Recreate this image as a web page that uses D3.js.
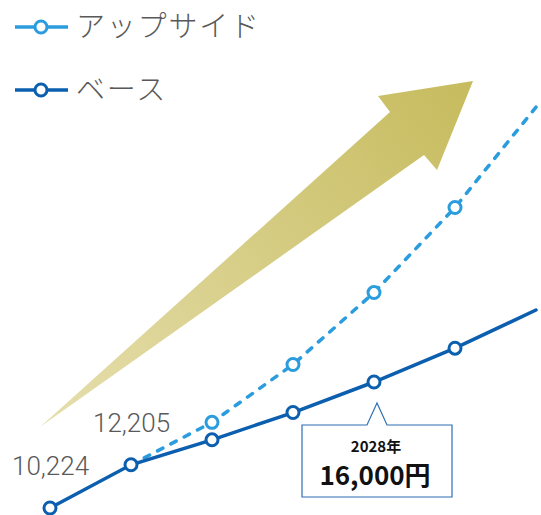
<!DOCTYPE html>
<html>
<head>
<meta charset="utf-8">
<script src="https://cdn.jsdelivr.net/npm/d3@7"></script>
<style>
  html, body { margin: 0; padding: 0; background: #fff; }
  svg { display: block; }
</style>
</head>
<body>
<div id="chart"></div>
<script>
// Forecast series (values per year)
const years = ["2024", "2025", "2026", "2027", "2028", "2029", "2030"];
const baseValues = [10224, 12205, 13350, 14600, 16000, 17550, 19300];
const upsideValues = [null, 12205, 14150, 16800, 20100, 24000, 28600];
const seriesNames = ["アップサイド", "ベース"];
const valueLabels = [
  { index: 0, value: 10224, text: "10,224" },
  { index: 1, value: 12205, text: "12,205" }
];
const callout = { index: 4, value: 16000, year: "2028年", text: "16,000円" };

const W = 541, H = 515;
const baseColor = "#0b5fae";
const upColor = "#2b9cdd";
const textGray = "#595959";

const svg = d3.select("#chart").append("svg")
  .attr("width", W).attr("height", H);

const x = d3.scalePoint().domain(years).range([50, 536]);
const y = d3.scaleLinear().domain([10224, 16000]).range([508, 382]);

// Decorative growth arrow behind the lines
const defs = svg.append("defs");
const grad = defs.append("linearGradient")
  .attr("id", "arrowGrad")
  .attr("gradientUnits", "userSpaceOnUse")
  .attr("x1", 40).attr("y1", 427).attr("x2", 473).attr("y2", 81);
grad.append("stop").attr("offset", "0%").attr("stop-color", "#e6dfae");
grad.append("stop").attr("offset", "100%").attr("stop-color", "#c6bb5d");

const arrowShape = [[40, 427], [390, 112], [378, 96], [473, 81], [437, 170], [424, 155]];
svg.append("path")
  .attr("d", d3.line()(arrowShape) + "Z")
  .attr("fill", "url(#arrowGrad)");

const line = d3.line()
  .defined(d => d.v != null)
  .x(d => x(d.year))
  .y(d => y(d.v));

const upData = years.map((yr, i) => ({ year: yr, v: upsideValues[i], i }));
const baseData = years.map((yr, i) => ({ year: yr, v: baseValues[i], i }));

// Upside (dashed)
svg.append("path")
  .attr("d", line(upData))
  .attr("fill", "none")
  .attr("stroke", upColor)
  .attr("stroke-width", 3.5)
  .attr("stroke-dasharray", "6,9")
  .attr("stroke-linecap", "round");

// Base (solid)
svg.append("path")
  .attr("d", line(baseData))
  .attr("fill", "none")
  .attr("stroke", baseColor)
  .attr("stroke-width", 3.5)
  .attr("stroke-linecap", "round");

// Markers: skip the final year and the shared start of the upside series
svg.selectAll("circle.up")
  .data(upData.filter(d => d.v != null && d.i > 1 && d.i < years.length - 1))
  .join("circle")
  .attr("class", "up")
  .attr("cx", d => x(d.year)).attr("cy", d => y(d.v))
  .attr("r", 6)
  .attr("fill", "#fff").attr("stroke", upColor).attr("stroke-width", 3);

svg.selectAll("circle.base")
  .data(baseData.filter(d => d.i < years.length - 1))
  .join("circle")
  .attr("class", "base")
  .attr("cx", d => x(d.year)).attr("cy", d => y(d.v))
  .attr("r", 6)
  .attr("fill", "#fff").attr("stroke", baseColor).attr("stroke-width", 3);

// Value labels for the first two years
const font = "'Noto Sans CJK JP', 'Noto Sans', sans-serif";
svg.selectAll("text.val")
  .data(valueLabels)
  .join("text")
  .attr("class", "val")
  .attr("x", d => x(years[d.index]) - 38)
  .attr("y", d => y(d.value) - 33)
  .attr("fill", textGray)
  .attr("font-family", "Roboto, 'Noto Sans', sans-serif")
  .attr("font-size", 26)
  .attr("font-weight", 300)
  .text(d => d.text);

// Callout box for 2028
const cx = x(years[callout.index]);
const cy = y(callout.value);
const boxTop = cy + 43, boxBottom = boxTop + 72;
const boxLeft = cx - 72, boxRight = cx + 78;
const tipY = cy + 21;
const calloutPath = [
  [boxLeft, boxTop], [cx - 7, boxTop], [cx + 3, tipY], [cx + 13, boxTop],
  [boxRight, boxTop], [boxRight, boxBottom], [boxLeft, boxBottom]
];
svg.append("path")
  .attr("d", d3.line()(calloutPath) + "Z")
  .attr("fill", "#fff")
  .attr("stroke", "#2e6fb4")
  .attr("stroke-width", 1.2);

svg.append("text")
  .attr("x", cx + 2).attr("y", boxTop + 27)
  .attr("text-anchor", "middle")
  .attr("font-family", font).attr("font-weight", 700)
  .attr("font-size", 15).attr("fill", "#111")
  .text(callout.year);
svg.append("text")
  .attr("x", cx + 1).attr("y", boxTop + 60)
  .attr("text-anchor", "middle")
  .attr("font-family", font).attr("font-weight", 700)
  .attr("font-size", 26).attr("fill", "#111")
  .text(callout.text);

// Legend
const legend = svg.append("g");
const legendRows = [
  { name: seriesNames[0], color: upColor, y: 27 },
  { name: seriesNames[1], color: baseColor, y: 90 }
];
legendRows.forEach(r => {
  legend.append("line")
    .attr("x1", 15).attr("x2", 68).attr("y1", r.y).attr("y2", r.y)
    .attr("stroke", r.color).attr("stroke-width", 3.5);
  legend.append("circle")
    .attr("cx", 41).attr("cy", r.y).attr("r", 6)
    .attr("fill", "#fff").attr("stroke", r.color).attr("stroke-width", 3);
  legend.append("text")
    .attr("x", 76).attr("y", r.y + 10)
    .attr("fill", textGray)
    .attr("font-family", font).attr("font-weight", 300)
    .attr("font-size", 29).attr("letter-spacing", 1.8)
    .text(r.name);
});
</script>
</body>
</html>
